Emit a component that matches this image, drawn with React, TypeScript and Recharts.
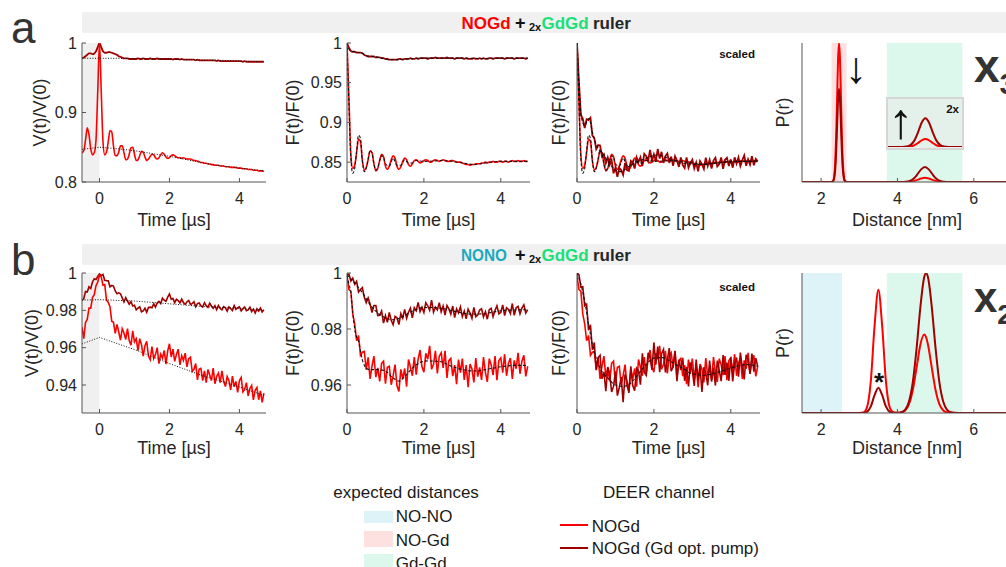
import React from 'react';
import { LineChart, Line, XAxis, YAxis, ReferenceArea } from 'recharts';

const RED = '#ff0000';
const DARK = '#a00000';
const FIT = '#111111';
const TXT = '#262626';
const AXIS = '#555555';
const PINK = '#fde0e0';
const MINT = '#dcf8ec';
const SKY = '#def3f7';
const SHADE = '#f0f0f0';
const GREEN_T = '#19e07b';
const CYAN_T = '#1aa9bf';

// ---------- time axes (µs) ----------
const TIME_PRE = [-0.5, -0.45, -0.4, -0.35, -0.3, -0.25, -0.2, -0.15, -0.1, -0.05];
const TIME = [
  0, 0.05, 0.1, 0.15, 0.2, 0.25, 0.3, 0.35, 0.4, 0.45,
  0.5, 0.55, 0.6, 0.65, 0.7, 0.75, 0.8, 0.85, 0.9, 0.95,
  1, 1.05, 1.1, 1.15, 1.2, 1.25, 1.3, 1.35, 1.4, 1.45,
  1.5, 1.55, 1.6, 1.65, 1.7, 1.75, 1.8, 1.85, 1.9, 1.95,
  2, 2.05, 2.1, 2.15, 2.2, 2.25, 2.3, 2.35, 2.4, 2.45,
  2.5, 2.55, 2.6, 2.65, 2.7, 2.75, 2.8, 2.85, 2.9, 2.95,
  3, 3.05, 3.1, 3.15, 3.2, 3.25, 3.3, 3.35, 3.4, 3.45,
  3.5, 3.55, 3.6, 3.65, 3.7, 3.75, 3.8, 3.85, 3.9, 3.95,
  4, 4.05, 4.1, 4.15, 4.2, 4.25, 4.3, 4.35, 4.4, 4.45,
  4.5, 4.55, 4.6, 4.65, 4.7,
];
const TIME_FULL = [...TIME_PRE, ...TIME];

// ---------- row a: NOGd + 2xGdGd ----------
const vDarkA = [
  0.978, 0.979, 0.981, 0.983, 0.985, 0.985, 0.984, 0.985, 0.988, 0.994,
  1.0, 0.994, 0.988, 0.986, 0.986, 0.987, 0.987, 0.986, 0.985, 0.984,
  0.983, 0.981, 0.98, 0.979, 0.978, 0.978, 0.978, 0.977, 0.977, 0.977,
  0.977, 0.977, 0.978, 0.977, 0.977, 0.978, 0.977, 0.977, 0.977, 0.978,
  0.977, 0.977, 0.977, 0.978, 0.977, 0.977, 0.977, 0.977, 0.977, 0.977,
  0.977, 0.977, 0.976, 0.977, 0.977, 0.977, 0.976, 0.977, 0.976, 0.976,
  0.976, 0.976, 0.976, 0.976, 0.976, 0.975, 0.976, 0.975, 0.975, 0.975,
  0.975, 0.975, 0.975, 0.975, 0.975, 0.975, 0.975, 0.974, 0.975, 0.974,
  0.974, 0.974, 0.974, 0.974, 0.974, 0.974, 0.974, 0.974, 0.974, 0.974,
  0.974, 0.974, 0.973, 0.974, 0.973, 0.973, 0.973, 0.973, 0.973, 0.973,
  0.973, 0.973, 0.973, 0.973, 0.973,
];
const vRedA = [
  0.842, 0.845, 0.86, 0.878, 0.868, 0.848, 0.839, 0.842, 0.86, 0.93,
  1.0, 0.93, 0.858, 0.839, 0.843, 0.858, 0.874, 0.872, 0.852, 0.838,
  0.838, 0.843, 0.852, 0.852, 0.842, 0.832, 0.833, 0.84, 0.849, 0.85,
  0.84, 0.831, 0.832, 0.838, 0.844, 0.843, 0.836, 0.831, 0.833, 0.837,
  0.84, 0.839, 0.835, 0.833, 0.835, 0.839, 0.842, 0.84, 0.836, 0.834,
  0.835, 0.838, 0.839, 0.838, 0.836, 0.835, 0.835, 0.834, 0.835, 0.834,
  0.833, 0.833, 0.833, 0.832, 0.831, 0.831, 0.83, 0.829, 0.828, 0.828,
  0.827, 0.827, 0.826, 0.826, 0.825, 0.825, 0.824, 0.824, 0.824, 0.823,
  0.823, 0.823, 0.822, 0.822, 0.822, 0.821, 0.821, 0.821, 0.821, 0.82,
  0.82, 0.82, 0.819, 0.819, 0.819, 0.818, 0.818, 0.818, 0.817, 0.817,
  0.817, 0.816, 0.816, 0.816, 0.815,
];
const bgTimeA = [-0.5, 0, 0.5, 1, 1.5, 2, 2.5, 3, 3.5, 4, 4.7];
const vDarkBgA = [0.978, 0.978, 0.978, 0.9775, 0.977, 0.977, 0.976, 0.9755, 0.975, 0.974, 0.973];
const vRedBgA = [0.847, 0.85, 0.848, 0.845, 0.841, 0.837, 0.832, 0.827, 0.823, 0.82, 0.816];

const fRedA = [
  1.0, 0.93, 0.86, 0.842, 0.846, 0.862, 0.879, 0.876, 0.852, 0.84,
  0.843, 0.853, 0.864, 0.862, 0.848, 0.839, 0.842, 0.852, 0.86, 0.857,
  0.845, 0.841, 0.845, 0.853, 0.858, 0.855, 0.845, 0.841, 0.844, 0.851,
  0.855, 0.853, 0.847, 0.845, 0.848, 0.852, 0.853, 0.851, 0.849, 0.85,
  0.852, 0.853, 0.852, 0.85, 0.85, 0.852, 0.853, 0.852, 0.851, 0.852,
  0.853, 0.852, 0.851, 0.851, 0.852, 0.852, 0.851, 0.85, 0.85, 0.85,
  0.849, 0.848, 0.847, 0.847, 0.846, 0.847, 0.847, 0.848, 0.848, 0.848,
  0.849, 0.849, 0.85, 0.849, 0.85, 0.85, 0.851, 0.85, 0.85, 0.851,
  0.851, 0.85, 0.851, 0.851, 0.85, 0.851, 0.852, 0.851, 0.851, 0.852,
  0.851, 0.851, 0.852, 0.851, 0.851,
];
const fitTimeRedA = [
  0, 0.05, 0.1, 0.15, 0.2, 0.25, 0.3, 0.35, 0.4, 0.45, 0.5, 0.55, 0.6, 0.65, 0.7, 0.75, 0.8, 0.85, 0.9, 0.95,
  1.0, 1.1, 1.2, 1.3, 1.4, 1.5, 1.6, 1.7, 1.8, 2.0, 2.5, 3.0, 3.3, 3.6, 4.0, 4.7,
];
const fFitRedA = [
  1.0, 0.925, 0.855, 0.836, 0.842, 0.864, 0.884, 0.88, 0.852, 0.838, 0.842, 0.854, 0.865, 0.862, 0.848, 0.84, 0.843, 0.852, 0.858, 0.856,
  0.848, 0.845, 0.855, 0.846, 0.846, 0.853, 0.849, 0.849, 0.852, 0.851, 0.852, 0.849, 0.847, 0.849, 0.851, 0.851,
];
const fDarkA = [
  1.0, 0.994, 0.99, 0.989, 0.989, 0.988, 0.988, 0.988, 0.987, 0.985,
  0.984, 0.983, 0.983, 0.983, 0.983, 0.982, 0.982, 0.982, 0.981, 0.981,
  0.98, 0.98, 0.979, 0.979, 0.979, 0.979, 0.979, 0.98, 0.98, 0.979,
  0.98, 0.98, 0.98, 0.981, 0.98, 0.98, 0.981, 0.98, 0.981, 0.981,
  0.981, 0.981, 0.98, 0.981, 0.981, 0.981, 0.982, 0.981, 0.981, 0.981,
  0.981, 0.981, 0.982, 0.981, 0.981, 0.981, 0.98, 0.981, 0.981, 0.981,
  0.981, 0.98, 0.981, 0.98, 0.98, 0.98, 0.981, 0.98, 0.98, 0.981,
  0.98, 0.981, 0.98, 0.98, 0.981, 0.981, 0.98, 0.981, 0.981, 0.981,
  0.981, 0.981, 0.98, 0.981, 0.981, 0.981, 0.981, 0.98, 0.981, 0.981,
  0.981, 0.981, 0.981, 0.98, 0.981,
];
const fitTimeDarkA = [0, 0.05, 0.1, 0.2, 0.3, 0.4, 0.5, 0.7, 0.9, 1.1, 1.3, 1.6, 2.0, 2.5, 3.0, 3.5, 4.0, 4.7];
const fFitDarkA = [1.0, 0.993, 0.99, 0.989, 0.988, 0.987, 0.984, 0.983, 0.981, 0.979, 0.979, 0.98, 0.981, 0.981, 0.981, 0.9805, 0.981, 0.981];

const sDarkA = [
  1.0, 0.9515, 0.9095, 0.905, 0.893, 0.904, 0.903, 0.906, 0.8835, 0.8805,
  0.8665, 0.8715, 0.871, 0.857, 0.86, 0.8485, 0.856, 0.8465, 0.8525, 0.836,
  0.843, 0.8315, 0.8425, 0.84, 0.834, 0.849, 0.84, 0.839, 0.8515, 0.8495,
  0.842, 0.856, 0.85, 0.856, 0.845, 0.8605, 0.8575, 0.8515, 0.8655, 0.8515,
  0.86, 0.8515, 0.8665, 0.8545, 0.863, 0.849, 0.8575, 0.861, 0.849, 0.857,
  0.8455, 0.8575, 0.852, 0.844, 0.856, 0.8465, 0.8425, 0.856, 0.843, 0.849,
  0.853, 0.842, 0.8495, 0.8385, 0.8515, 0.8475, 0.8415, 0.8555, 0.845, 0.853,
  0.842, 0.852, 0.8555, 0.8445, 0.8475, 0.856, 0.8415, 0.853, 0.8555, 0.845,
  0.8535, 0.843, 0.856, 0.848, 0.856, 0.845, 0.8525, 0.8585, 0.8455, 0.8535,
  0.847, 0.8575, 0.846, 0.854, 0.851,
];
const fitTimeScaledA = [
  0, 0.05, 0.1, 0.15, 0.2, 0.25, 0.3, 0.35, 0.4, 0.5, 0.6, 0.7, 0.8, 0.9, 1.0, 1.1, 1.2, 1.3, 1.4, 1.5,
  1.7, 1.9, 2.1, 2.3, 2.5, 2.7, 2.9, 3.1, 3.4, 3.7, 4.0, 4.3, 4.7,
];
const sFitDarkA = [
  1.0, 0.95, 0.912, 0.9, 0.896, 0.9, 0.905, 0.9, 0.888, 0.872, 0.864, 0.859, 0.851, 0.845, 0.84, 0.838, 0.839, 0.843, 0.846, 0.849,
  0.853, 0.857, 0.859, 0.856, 0.853, 0.849, 0.848, 0.847, 0.848, 0.849, 0.85, 0.851, 0.851,
];

// distance distributions, row a
const distA = [1.5, 2.27, 2.32, 2.345, 2.37, 2.395, 2.42, 2.445, 2.47, 2.495, 2.52, 2.545, 2.57, 2.595, 2.62, 2.67,
  4.1, 4.22, 4.32, 4.42, 4.52, 4.62, 4.72, 4.82, 4.92, 5.02, 5.12, 5.22, 5.34, 7.5];
const pRedA = [0, 0, 0.012, 0.045, 0.135, 0.33, 0.61, 0.885, 1.0, 0.885, 0.61, 0.33, 0.135, 0.045, 0.012, 0,
  0, 0.0004, 0.0019, 0.0063, 0.015, 0.025, 0.03, 0.025, 0.015, 0.0063, 0.0019, 0.0004, 0, 0];
const pDarkA = [0, 0, 0.008, 0.03, 0.09, 0.22, 0.41, 0.59, 0.67, 0.59, 0.41, 0.22, 0.09, 0.03, 0.008, 0,
  0, 0.0015, 0.007, 0.023, 0.054, 0.091, 0.108, 0.091, 0.054, 0.023, 0.007, 0.0015, 0, 0];

// ---------- row b: NONO + 2xGdGd ----------
const vDarkB = [
  0.9853, 0.9862, 0.9901, 0.9898, 0.9926, 0.9917, 0.9952, 0.9969, 0.9965, 0.9981,
  0.9995, 0.9986, 0.9992, 0.9961, 0.9959, 0.9958, 0.9926, 0.9933, 0.993, 0.9904,
  0.9889, 0.9894, 0.9889, 0.9867, 0.9845, 0.9868, 0.985, 0.9833, 0.9846, 0.9823,
  0.9827, 0.9803, 0.9812, 0.9819, 0.9792, 0.9797, 0.9811, 0.9789, 0.9815, 0.9817,
  0.9814, 0.9835, 0.9817, 0.9839, 0.9848, 0.9836, 0.9865, 0.9854, 0.9848, 0.9871,
  0.9888, 0.986, 0.9863, 0.9841, 0.9859, 0.9852, 0.984, 0.986, 0.9841, 0.9832,
  0.9846, 0.9853, 0.9832, 0.9836, 0.9846, 0.9819, 0.9836, 0.9839, 0.9824, 0.9818,
  0.9841, 0.9825, 0.9816, 0.9838, 0.9823, 0.9811, 0.9825, 0.9803, 0.9826, 0.981,
  0.9803, 0.982, 0.9813, 0.9796, 0.9818, 0.9809, 0.9799, 0.9825, 0.9805, 0.9814,
  0.9819, 0.9797, 0.981, 0.9818, 0.9798, 0.9802, 0.9817, 0.9793, 0.9807, 0.9786,
  0.9808, 0.9796, 0.9812, 0.9791, 0.9803,
];
const vRedB = [
  0.971, 0.9648, 0.9735, 0.9751, 0.9812, 0.9812, 0.9869, 0.9884, 0.9932, 0.9951,
  0.999, 0.9979, 0.9935, 0.9938, 0.9856, 0.9842, 0.982, 0.9742, 0.9736, 0.9677,
  0.9724, 0.9684, 0.9641, 0.9702, 0.9679, 0.9644, 0.9702, 0.9638, 0.9613, 0.969,
  0.9631, 0.9648, 0.9584, 0.9648, 0.9616, 0.9555, 0.9611, 0.9634, 0.9555, 0.9535,
  0.9606, 0.9541, 0.9563, 0.96, 0.9514, 0.9565, 0.9544, 0.9585, 0.9512, 0.9583,
  0.9621, 0.955, 0.9592, 0.9527, 0.9564, 0.9592, 0.9508, 0.9557, 0.9531, 0.9571,
  0.9497, 0.9541, 0.9549, 0.9473, 0.9484, 0.9515, 0.9427, 0.9485, 0.9489, 0.9424,
  0.9476, 0.9413, 0.9483, 0.9454, 0.9424, 0.949, 0.9407, 0.9447, 0.9464, 0.9413,
  0.9476, 0.942, 0.9392, 0.9445, 0.9423, 0.9374, 0.9448, 0.939, 0.9419, 0.9361,
  0.9424, 0.944, 0.9363, 0.9376, 0.9413, 0.9342, 0.9381, 0.9397, 0.932, 0.9372,
  0.9387, 0.9321, 0.9369, 0.9307, 0.9357,
];
const bgTimeB = [-0.5, 0, 1, 2, 3, 4, 4.7];
const vDarkBgB = [0.9855, 0.9857, 0.985, 0.9835, 0.982, 0.981, 0.98];
const vRedBgB = [0.962, 0.9655, 0.959, 0.9515, 0.9446, 0.939, 0.9344];

const fDarkB = [
  0.9994, 0.9996, 0.9971, 0.9982, 0.996, 0.997, 0.9932, 0.9941, 0.9948, 0.9913,
  0.9894, 0.9911, 0.9889, 0.9859, 0.9884, 0.9884, 0.9848, 0.9849, 0.9864, 0.9821,
  0.9848, 0.9824, 0.9859, 0.9831, 0.9815, 0.9845, 0.984, 0.9816, 0.9855, 0.9839,
  0.987, 0.9838, 0.986, 0.9875, 0.984, 0.9876, 0.9865, 0.9895, 0.9862, 0.9878,
  0.9859, 0.9894, 0.9883, 0.9867, 0.9903, 0.986, 0.9878, 0.9868, 0.9894, 0.9861,
  0.9882, 0.985, 0.9884, 0.9872, 0.9853, 0.9882, 0.9841, 0.9872, 0.9858, 0.9879,
  0.9844, 0.9864, 0.9836, 0.9871, 0.9857, 0.9838, 0.9877, 0.9844, 0.985, 0.9868,
  0.9872, 0.9843, 0.9862, 0.9835, 0.9869, 0.9874, 0.9844, 0.9866, 0.9883, 0.9854,
  0.9859, 0.9886, 0.9848, 0.9876, 0.987, 0.9855, 0.9891, 0.9849, 0.9876, 0.9881,
  0.9854, 0.9875, 0.9886, 0.9857, 0.9869,
];
const fitTimeDarkB = [0, 0.2, 0.4, 0.6, 0.8, 1.0, 1.2, 1.4, 1.6, 1.8, 2.0, 2.2, 2.5, 2.8, 3.0, 3.3, 3.5, 3.8, 4.0, 4.4, 4.7];
const fFitDarkB = [0.9994, 0.9964, 0.993, 0.9887, 0.9857, 0.984, 0.9833, 0.984, 0.9857, 0.9869, 0.9877, 0.9877, 0.9873, 0.9863, 0.9857, 0.9853, 0.9854, 0.986, 0.9865, 0.9868, 0.9869];
const fRedB = [
  0.999, 0.9941, 0.9935, 0.9854, 0.9818, 0.9758, 0.9777, 0.9706, 0.9717, 0.972,
  0.9655, 0.9699, 0.9622, 0.9667, 0.9703, 0.9628, 0.9661, 0.9613, 0.9677, 0.9685,
  0.9605, 0.9663, 0.9667, 0.9601, 0.9633, 0.9673, 0.9597, 0.9577, 0.9656, 0.9621,
  0.9659, 0.9594, 0.9691, 0.9664, 0.9633, 0.97, 0.9637, 0.9692, 0.9725, 0.9665,
  0.9646, 0.9713, 0.9692, 0.974, 0.9656, 0.9674, 0.9722, 0.9641, 0.9703, 0.9715,
  0.9661, 0.9722, 0.9625, 0.9687, 0.9695, 0.9632, 0.9671, 0.9603, 0.9691, 0.9644,
  0.9694, 0.9618, 0.9671, 0.9592, 0.9675, 0.9657, 0.9609, 0.9696, 0.963, 0.9663,
  0.9618, 0.97, 0.9645, 0.9611, 0.9694, 0.9672, 0.9635, 0.9703, 0.9617, 0.9687,
  0.9697, 0.9644, 0.971, 0.9633, 0.9678, 0.9696, 0.9622, 0.9688, 0.9658, 0.9715,
  0.964, 0.9685, 0.9706, 0.9631, 0.9667,
];
const fitTimeRedB = [0, 0.05, 0.1, 0.15, 0.2, 0.25, 0.3, 0.4, 0.5, 0.6, 0.8, 1.0, 1.2, 1.35, 1.5, 1.7, 1.9, 2.1, 2.4, 2.7, 3.0, 3.3, 3.6, 4.0, 4.4, 4.7];
const fFitRedB = [0.999, 0.996, 0.993, 0.986, 0.98, 0.977, 0.9756, 0.969, 0.966, 0.9655, 0.9655, 0.965, 0.9625, 0.9614, 0.963, 0.966, 0.968, 0.9686, 0.9684, 0.9668, 0.9655, 0.965, 0.9655, 0.9665, 0.967, 0.967];

const sDarkB = [
  1.0, 0.9994, 0.995, 0.9951, 0.9883, 0.9888, 0.9796, 0.9815, 0.9726, 0.9752,
  0.9653, 0.9698, 0.9706, 0.9622, 0.9647, 0.9578, 0.9664, 0.9641, 0.9575, 0.9595,
  0.9649, 0.9562, 0.9591, 0.9628, 0.9539, 0.9638, 0.9614, 0.9572, 0.9667, 0.9598,
  0.958, 0.966, 0.9651, 0.9601, 0.9713, 0.9646, 0.9635, 0.9715, 0.9697, 0.9654,
  0.9752, 0.9673, 0.9737, 0.9646, 0.9712, 0.9727, 0.9645, 0.969, 0.9732, 0.9649,
  0.9665, 0.9721, 0.9614, 0.969, 0.9653, 0.9697, 0.9615, 0.9665, 0.9595, 0.9681,
  0.9651, 0.9597, 0.9691, 0.9616, 0.9668, 0.9575, 0.9663, 0.9643, 0.9599, 0.9687,
  0.9612, 0.9662, 0.9598, 0.9687, 0.9651, 0.9614, 0.9707, 0.9636, 0.968, 0.9615,
  0.9699, 0.9613, 0.9678, 0.9698, 0.963, 0.9716, 0.9661, 0.962, 0.9708, 0.969,
  0.964, 0.9712, 0.9648, 0.9696, 0.9667,
];
const fitTimeScaledB = [0, 0.1, 0.2, 0.3, 0.4, 0.5, 0.6, 0.8, 1.0, 1.2, 1.4, 1.6, 1.8, 2.0, 2.2, 2.5, 2.8, 3.0, 3.3, 3.6, 4.0, 4.4, 4.7];
const sFitDarkB = [1.0, 0.996, 0.9899, 0.982, 0.9744, 0.9695, 0.966, 0.9625, 0.96, 0.9595, 0.9607, 0.964, 0.9673, 0.9696, 0.9698, 0.9679, 0.9655, 0.964, 0.9635, 0.9643, 0.966, 0.9673, 0.9667];

const distB = [1.5, 3.0, 3.1, 3.2, 3.3, 3.4, 3.5, 3.6, 3.7, 3.8, 3.9, 4.0, 4.1, 4.2, 4.3, 4.4, 4.5, 4.6, 4.7, 4.75,
  4.8, 4.9, 5.0, 5.1, 5.2, 5.3, 5.4, 5.5, 5.6, 7.5];
const pRedB = [0, 0.0003, 0.003, 0.039, 0.22, 0.62, 0.88, 0.62, 0.22, 0.039, 0.004, 0.001, 0.004, 0.018, 0.061, 0.161, 0.322, 0.488, 0.56, 0.541,
  0.488, 0.322, 0.161, 0.061, 0.018, 0.004, 0.0006, 0, 0, 0];
const pDarkB = [0, 0, 0.0007, 0.008, 0.045, 0.127, 0.18, 0.127, 0.045, 0.008, 0.001, 0.001, 0.005, 0.023, 0.08, 0.216, 0.458, 0.755, 0.969, 1.0,
  0.969, 0.755, 0.458, 0.216, 0.08, 0.023, 0.005, 0.001, 0, 0];

// ---------- ticks ----------
const timeTicks = [0, 2, 4];
const distTicks = [2, 4, 6];
const ticksVa = [0.8, 0.9, 1];
const ticksFa = [0.85, 0.9, 0.95, 1];
const ticksVb = [0.94, 0.96, 0.98, 1];
const ticksFb = [0.96, 0.98, 1];

const pts = (xs: number[], ys: number[]) => xs.map((x, i) => ({ x, y: ys[i] }));

type S = { xs: number[]; ys: number[]; color: string; width: number; dash?: string; curve?: 'linear' | 'monotone' };
type A = { x1: number; x2: number; fill: string };

function Panel(p: {
  left: number; top: number; w: number; h: number;
  xDomain: [number, number]; xTicks: number[];
  yDomain: [number, number]; yTicks: number[];
  yLabels: boolean; yTickLines?: boolean; areas: A[]; series: S[];
}) {
  const YW = 50, XH = 40, MT = 12, MR = 4;
  const showY = p.yTickLines !== false;
  return (
    <div style={{ position: 'absolute', left: p.left - YW, top: p.top - MT }}>
      <LineChart width={YW + p.w + MR} height={p.h + XH + MT} margin={{ top: MT, right: MR, bottom: 0, left: 0 }}>
        <XAxis xAxisId="b" type="number" dataKey="x" domain={p.xDomain} ticks={p.xTicks} interval={0} allowDataOverflow
          orientation="bottom" height={XH} stroke={AXIS} tickSize={-4} tickMargin={15}
          tick={{ fontSize: 16, fill: TXT }} />
        <XAxis xAxisId="t" type="number" dataKey="x" domain={p.xDomain} ticks={p.xTicks} interval={0} allowDataOverflow
          orientation="top" height={0} stroke={AXIS} tickSize={-4} tick={false} />
        <YAxis yAxisId="l" type="number" domain={p.yDomain} ticks={p.yTicks} interval={0} allowDataOverflow width={YW}
          stroke={AXIS} tickSize={-4} tickMargin={9} tick={p.yLabels ? { fontSize: 16, fill: TXT } : false} tickLine={showY} />
        <YAxis yAxisId="r" orientation="right" type="number" domain={p.yDomain} ticks={p.yTicks} interval={0} allowDataOverflow
          width={0} stroke={AXIS} tickSize={-4} tick={false} tickLine={showY} />
        {p.areas.map((a, i) => (
          <ReferenceArea key={'a' + i} xAxisId="b" yAxisId="l" x1={a.x1} x2={a.x2} fill={a.fill} fillOpacity={1} stroke="none" />
        ))}
        {p.series.map((s, i) => (
          <Line key={'s' + i} xAxisId="b" yAxisId="l" data={pts(s.xs, s.ys)} dataKey="y" type={s.curve ?? 'linear'}
            stroke={s.color} strokeWidth={s.width} strokeDasharray={s.dash} dot={false} activeDot={false}
            isAnimationActive={false} />
        ))}
      </LineChart>
    </div>
  );
}

const DOT = '1 1.6';
const DASH = '3 2';

export default function App() {
  const rowA = 43, rowB = 273, hA = 139, hB = 140;
  const tDom: [number, number] = [0, 4.76];
  const tDomPre: [number, number] = [-0.5, 4.76];
  const dDom: [number, number] = [1.5, 7];
  return (
    <div style={{ position: 'absolute', left: 0, top: 0, width: 1006, height: 567, overflow: 'hidden', background: '#fff',
      fontFamily: '"Liberation Sans", Arial, Helvetica, sans-serif' }}>
      {/* row a */}
      <Panel left={82} top={rowA} w={184} h={hA} xDomain={tDomPre} xTicks={timeTicks} yDomain={[0.8, 1]} yTicks={ticksVa} yLabels
        areas={[{ x1: -0.5, x2: 0, fill: SHADE }]}
        series={[
          { xs: TIME_FULL, ys: vDarkA, color: DARK, width: 1.8, curve: 'monotone' },
          { xs: TIME_FULL, ys: vRedA, color: RED, width: 1.6, curve: 'monotone' },
          { xs: bgTimeA, ys: vDarkBgA, color: FIT, width: 1, dash: DOT },
          { xs: bgTimeA, ys: vRedBgA, color: FIT, width: 1, dash: DOT },
        ]} />
      <Panel left={347} top={rowA} w={183} h={hA} xDomain={tDom} xTicks={timeTicks} yDomain={[0.825, 1]} yTicks={ticksFa} yLabels
        areas={[]}
        series={[
          { xs: TIME, ys: fRedA, color: RED, width: 1.6, curve: 'monotone' },
          { xs: TIME, ys: fDarkA, color: DARK, width: 1.8, curve: 'monotone' },
          { xs: fitTimeRedA, ys: fFitRedA, color: FIT, width: 1.1, dash: DASH, curve: 'monotone' },
          { xs: fitTimeDarkA, ys: fFitDarkA, color: FIT, width: 1.1, dash: DASH, curve: 'monotone' },
        ]} />
      <Panel left={577} top={rowA} w={183} h={hA} xDomain={tDom} xTicks={timeTicks} yDomain={[0.825, 1]} yTicks={ticksFa} yLabels={false}
        areas={[]}
        series={[
          { xs: TIME, ys: fRedA, color: RED, width: 1.6, curve: 'monotone' },
          { xs: TIME, ys: sDarkA, color: DARK, width: 1.8 },
          { xs: fitTimeRedA, ys: fFitRedA, color: FIT, width: 1.1, dash: DASH, curve: 'monotone' },
          { xs: fitTimeScaledA, ys: sFitDarkA, color: FIT, width: 1.1, dash: DASH, curve: 'monotone' },
        ]} />
      <Panel left={802} top={rowA} w={210} h={hA} xDomain={dDom} xTicks={distTicks} yDomain={[0, 1]} yTicks={[0.5]} yLabels={false} yTickLines={false}
        areas={[{ x1: 2.275, x2: 2.665, fill: PINK }, { x1: 3.72, x2: 5.7, fill: MINT }]}
        series={[
          { xs: distA, ys: pRedA, color: RED, width: 2, curve: 'monotone' },
          { xs: distA, ys: pDarkA, color: DARK, width: 2, curve: 'monotone' },
        ]} />
      {/* inset (2x) */}
      <div style={{ position: 'absolute', left: 886, top: 97, width: 78, height: 53, boxSizing: 'border-box',
        border: '2px solid #d6d6d6', background: '#e3f1ea' }} />
      <div style={{ position: 'absolute', left: 888, top: 99 }}>
        <LineChart width={74} height={48} margin={{ top: 0, right: 0, bottom: 0, left: 0 }}>
          <XAxis type="number" dataKey="x" domain={[3.72, 5.7]} allowDataOverflow hide />
          <YAxis type="number" domain={[0, 0.18]} allowDataOverflow hide />
          <Line data={pts(distA, pRedA)} dataKey="y" type="monotone" stroke={RED} strokeWidth={2} dot={false} isAnimationActive={false} />
          <Line data={pts(distA, pDarkA)} dataKey="y" type="monotone" stroke={DARK} strokeWidth={2} dot={false} isAnimationActive={false} />
        </LineChart>
      </div>

      {/* row b */}
      <Panel left={82} top={rowB} w={184} h={hB} xDomain={tDomPre} xTicks={timeTicks} yDomain={[0.925, 1]} yTicks={ticksVb} yLabels
        areas={[{ x1: -0.5, x2: 0, fill: SHADE }]}
        series={[
          { xs: TIME_FULL, ys: vDarkB, color: DARK, width: 1.6 },
          { xs: TIME_FULL, ys: vRedB, color: RED, width: 1.6 },
          { xs: bgTimeB, ys: vDarkBgB, color: FIT, width: 1, dash: DOT },
          { xs: bgTimeB, ys: vRedBgB, color: FIT, width: 1, dash: DOT },
        ]} />
      <Panel left={347} top={rowB} w={183} h={hB} xDomain={tDom} xTicks={timeTicks} yDomain={[0.95, 1]} yTicks={ticksFb} yLabels
        areas={[]}
        series={[
          { xs: TIME, ys: fRedB, color: RED, width: 1.6 },
          { xs: TIME, ys: fDarkB, color: DARK, width: 1.6 },
          { xs: fitTimeRedB, ys: fFitRedB, color: FIT, width: 1.1, dash: DASH, curve: 'monotone' },
          { xs: fitTimeDarkB, ys: fFitDarkB, color: FIT, width: 1.1, dash: DASH, curve: 'monotone' },
        ]} />
      <Panel left={577} top={rowB} w={183} h={hB} xDomain={tDom} xTicks={timeTicks} yDomain={[0.95, 1]} yTicks={ticksFb} yLabels={false}
        areas={[]}
        series={[
          { xs: TIME, ys: fRedB, color: RED, width: 1.6 },
          { xs: TIME, ys: sDarkB, color: DARK, width: 1.6 },
          { xs: fitTimeScaledB, ys: sFitDarkB, color: FIT, width: 1.1, dash: DASH, curve: 'monotone' },
        ]} />
      <Panel left={802} top={rowB} w={210} h={hB} xDomain={dDom} xTicks={distTicks} yDomain={[0, 1]} yTicks={[0.5]} yLabels={false} yTickLines={false}
        areas={[{ x1: 1.5, x2: 2.55, fill: SKY }, { x1: 3.72, x2: 5.7, fill: MINT }]}
        series={[
          { xs: distB, ys: pRedB, color: RED, width: 2, curve: 'monotone' },
          { xs: distB, ys: pDarkB, color: DARK, width: 2, curve: 'monotone' },
        ]} />

      {/* annotations */}
      <svg width={1006} height={567} style={{ position: 'absolute', left: 0, top: 0, pointerEvents: 'none' }}>
        <rect x={82} y={12} width={924} height={21} fill={SHADE} />
        <rect x={82} y={244} width={924} height={21} fill={SHADE} />
        <text y={28.5} fontSize={17} fontWeight="bold">
          <tspan x={461.5} fill={RED}>NOGd</tspan>
          <tspan x={515} fill="#111" fontSize={18}>+</tspan>
          <tspan x={529} fontSize={11} fill="#111" dy={2}>2x</tspan>
          <tspan x={541.5} fill={GREEN_T} dy={-2}>GdGd</tspan>
          <tspan x={593} fill={TXT}>ruler</tspan>
        </text>
        <text y={260.5} fontSize={17} fontWeight="bold">
          <tspan x={461} fill={CYAN_T} textLength={46} lengthAdjust="spacingAndGlyphs">NONO</tspan>
          <tspan x={515} fill="#111" fontSize={18}>+</tspan>
          <tspan x={529} fontSize={11} fill="#111" dy={2}>2x</tspan>
          <tspan x={541.5} fill={GREEN_T} dy={-2}>GdGd</tspan>
          <tspan x={593} fill={TXT}>ruler</tspan>
        </text>

        <text x={11} y={43} fontSize={44} fill="#333">a</text>
        <text x={11} y={275} fontSize={44} fill="#333">b</text>

        <g fontSize={18} fill={TXT} textAnchor="middle">
          <text transform="translate(46,112.5) rotate(-90)">V(t)/V(0)</text>
          <text transform="translate(299,112.5) rotate(-90)">F(t)/F(0)</text>
          <text transform="translate(564.5,112.5) rotate(-90)">F(t)/F(0)</text>
          <text transform="translate(789,112.5) rotate(-90)">P(r)</text>
          <text transform="translate(38,343) rotate(-90)">V(t)/V(0)</text>
          <text transform="translate(299,343) rotate(-90)">F(t)/F(0)</text>
          <text transform="translate(564.5,343) rotate(-90)">F(t)/F(0)</text>
          <text transform="translate(789,343) rotate(-90)">P(r)</text>
          <text x={174} y={226}>Time [µs]</text>
          <text x={438.5} y={226}>Time [µs]</text>
          <text x={668.5} y={226}>Time [µs]</text>
          <text x={907} y={226}>Distance [nm]</text>
          <text x={174} y={454}>Time [µs]</text>
          <text x={438.5} y={454}>Time [µs]</text>
          <text x={668.5} y={454}>Time [µs]</text>
          <text x={907} y={454}>Distance [nm]</text>
        </g>

        <text x={755} y={57.5} fontSize={11.5} fontWeight="bold" textAnchor="end" fill="#111">scaled</text>
        <text x={755} y={290.5} fontSize={11.5} fontWeight="bold" textAnchor="end" fill="#111">scaled</text>
        <text x={959} y={112.7} fontSize={11.5} fontWeight="bold" textAnchor="end" fill="#111">2x</text>

        <text x={856} y={83} fontSize={44} textAnchor="middle" fill="#111" fontFamily='"Liberation Sans", Arial, sans-serif'>↓</text>
        <text x={901} y={138} fontSize={50} textAnchor="middle" fill="#111" fontFamily='"Liberation Sans", Arial, sans-serif'>↑</text>
        <text x={879} y={391} fontSize={26} fontWeight="bold" textAnchor="middle" fill="#111">*</text>

        <text x={974} y={82} fontSize={46} fontWeight="bold" fill="#333">x<tspan fontSize={30} dy={12}>3</tspan></text>
        <text x={974} y={311.7} fontSize={42} fontWeight="bold" fill="#333">x<tspan fontSize={28} dy={12}>2</tspan></text>

        {/* legends */}
        <g fontSize={17} fill="#1a1a1a">
          <text x={333.3} y={498.3}>expected distances</text>
          <rect x={364} y={511} width={29} height={12} fill={SKY} />
          <text x={395.7} y={521.7}>NO-NO</text>
          <rect x={364} y={531} width={29} height={16} fill={PINK} />
          <text x={395.7} y={545.7}>NO-Gd</text>
          <rect x={364} y={554} width={29} height={14} fill={MINT} />
          <text x={395.7} y={569}>Gd-Gd</text>

          <text x={603} y={498.3}>DEER channel</text>
          <line x1={560} x2={588} y1={525} y2={525} stroke={RED} strokeWidth={2} />
          <text x={591.7} y={531.7}>NOGd</text>
          <line x1={560} x2={588} y1={548} y2={548} stroke={DARK} strokeWidth={2} />
          <text x={591.7} y={554.3}>NOGd (Gd opt. pump)</text>
        </g>
      </svg>
    </div>
  );
}
